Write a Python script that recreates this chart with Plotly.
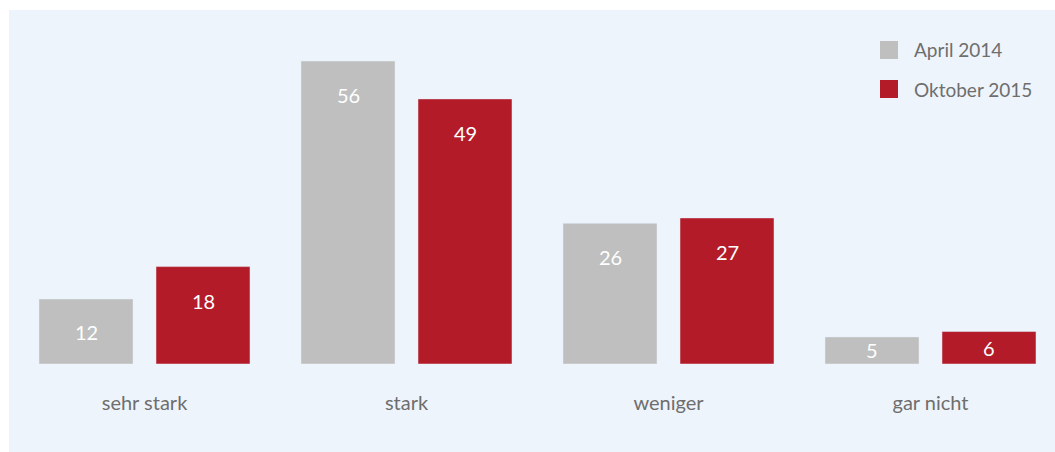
import plotly.graph_objects as go

categories = ["sehr stark", "stark", "weniger", "gar nicht"]
series_names = ["April 2014", "Oktober 2015"]
april_2014 = [12, 56, 26, 5]
oktober_2015 = [18, 49, 27, 6]

W, H = 1055, 452
BASE_PX = 364          # pixel row of the bars' baseline
PX_PER_UNIT = 5.41     # vertical scale
CAT_PX = 262.0         # pixels between category centres
FIRST_PX = 144.5       # pixel column of first category centre

GRAY = "#BEBFBE"
RED = "#B31B29"
BG = "#EEF4FC"
TXT = "#6E6E6E"
FONT = "Lato"

bar_w = 94 / CAT_PX
off_gray = -105.5 / CAT_PX
off_red = 11.5 / CAT_PX

x_idx = list(range(len(categories)))

fig = go.Figure()
fig.add_trace(go.Bar(x=x_idx, y=april_2014, name=series_names[0], marker_color=GRAY,
                     width=bar_w, offset=off_gray, showlegend=False, hoverinfo="y"))
fig.add_trace(go.Bar(x=x_idx, y=oktober_2015, name=series_names[1], marker_color=RED,
                     width=bar_w, offset=off_red, showlegend=False, hoverinfo="y"))

# value labels inside bars (near the top, centred for short bars)
annotations = []
label_drop = 34 / PX_PER_UNIT
for vals, off in ((april_2014, off_gray), (oktober_2015, off_red)):
    for i, v in enumerate(vals):
        ylab = max(v - label_drop, v / 2)
        annotations.append(dict(x=i + off + bar_w / 2, y=ylab, xref="x", yref="y",
                                text=str(v), showarrow=False,
                                font=dict(family=FONT, size=20, color="white")))

def px_x(p):
    return p / W

def px_y(p):
    return (BASE_PX - p) / BASE_PX

# background panel
shapes = [dict(type="rect", xref="paper", yref="paper", layer="below",
               x0=px_x(9), x1=px_x(W + 5), y0=px_y(10), y1=px_y(H + 10),
               fillcolor=BG, line=dict(width=0))]

# legend
legend_colors = [GRAY, RED]
legend_rows = [50, 89]
for name, col, cy in zip(series_names, legend_colors, legend_rows):
    shapes.append(dict(type="rect", xref="paper", yref="paper",
                       x0=px_x(880), x1=px_x(898), y0=px_y(cy - 9), y1=px_y(cy + 9),
                       fillcolor=col, line=dict(width=0)))
    annotations.append(dict(x=px_x(912), y=px_y(cy), xref="paper", yref="paper",
                            xanchor="left", yanchor="middle", showarrow=False,
                            text=name, font=dict(family=FONT, size=19, color=TXT)))

x0 = -FIRST_PX / CAT_PX
x1 = x0 + W / CAT_PX

fig.update_layout(
    width=W, height=H,
    margin=dict(l=0, r=0, t=0, b=H - BASE_PX, pad=0),
    paper_bgcolor="white",
    plot_bgcolor="rgba(0,0,0,0)",
    shapes=shapes,
    annotations=annotations,
    xaxis=dict(range=[x0, x1], tickmode="array", tickvals=x_idx, ticktext=categories,
               showgrid=False, zeroline=False, showline=False, ticks="",
               ticklabelstandoff=25,
               tickfont=dict(family=FONT, size=20, color=TXT), fixedrange=True),
    yaxis=dict(range=[0, BASE_PX / PX_PER_UNIT], showgrid=False, zeroline=False,
               showline=False, showticklabels=False, ticks="", fixedrange=True),
    font=dict(family=FONT),
)

fig.write_html("out.html", config={"displayModeBar": False})
